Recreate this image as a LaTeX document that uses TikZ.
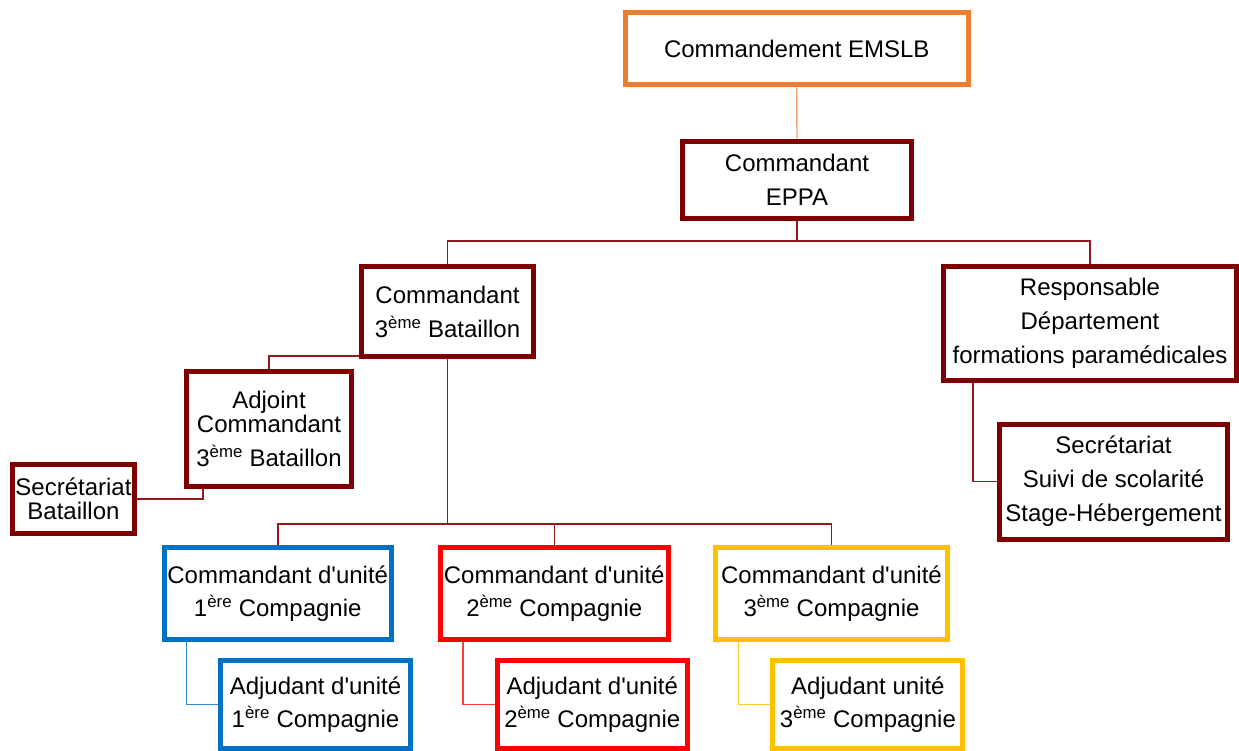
\documentclass[tikz,border=0pt]{standalone}
\usepackage{fontspec}
\setmainfont{Liberation Sans}
\definecolor{cOrange}{HTML}{ED7D31}
\definecolor{cOrangeL}{HTML}{F4A56E}
\definecolor{cMaroon}{HTML}{7F0000}
\definecolor{cMaroonL}{HTML}{8E1A1A}
\definecolor{cBlue}{HTML}{0070C0}
\definecolor{cBlueL}{HTML}{2C8AD6}
\definecolor{cRed}{HTML}{FF0000}
\definecolor{cRedL}{HTML}{FF3B3B}
\definecolor{cGold}{HTML}{FFC000}
\definecolor{cGoldL}{HTML}{FFCA3A}
\tikzset{
  orgbox/.style={draw, line width=5pt, fill=white, inner sep=0pt, align=center,
    font=\fontsize{24}{34}\selectfont, text=black},
  obox/.style={orgbox, draw=cOrange},
  mbox/.style={orgbox, draw=cMaroon},
  bbox/.style={orgbox, draw=cBlue},
  rbox/.style={orgbox, draw=cRed},
  gbox/.style={orgbox, draw=cGold},
  oline/.style={draw=cOrangeL, line width=1.4pt},
  mline/.style={draw=cMaroonL, line width=1.5pt},
  bline/.style={draw=cBlueL, line width=1.2pt},
  rline/.style={draw=cRedL, line width=1.2pt},
  gline/.style={draw=cGoldL, line width=1.2pt},
}
\newcommand{\ordsup}[1]{\textsuperscript{#1}}
\newcommand{\apo}{\textquotesingle}
\begin{document}
\begin{tikzpicture}[x=1pt,y=-1pt]
\useasboundingbox[fill=white] (0,0) rectangle (1239,751);

\coordinate (busA) at (0,241);
\coordinate (busB) at (0,524);

\node[obox, minimum width=343.5pt, minimum height=72.5pt] (emslb) at (796.75,48.75) {Commandement EMSLB};
\node[mbox, minimum width=229pt, minimum height=77pt] (eppa) at (797,180) {Commandant\\EPPA};
\node[mbox, minimum width=172pt, minimum height=90pt] (bat) at (447.5,311.5) {Commandant\\3\ordsup{ème} Bataillon};
\node[mbox, minimum width=293pt, minimum height=114pt] (resp) at (1090,323.5) {Responsable\\Département\\formations paramédicales};
\node[mbox, minimum width=165pt, minimum height=114.5pt] (adj) at (269,428.75) {Adjoint\\[-9.5pt]Commandant\\3\ordsup{ème} Bataillon};
\node[mbox, minimum width=122pt, minimum height=69.5pt] (secb) at (73.5,498.75) {Secrétariat\\[-9.5pt]Bataillon};
\node[mbox, minimum width=228pt, minimum height=115pt] (secs) at (1113.5,481.5) {Secrétariat\\Suivi de scolarité\\Stage-Hébergement};
\node[bbox, minimum width=227.5pt, minimum height=91.5pt] (cdu1) at (277.75,593.25) {Commandant d\apo unité\\[-1pt]1\ordsup{ère} Compagnie};
\node[rbox, minimum width=227.5pt, minimum height=91.5pt] (cdu2) at (554.25,593.25) {Commandant d\apo unité\\[-1pt]2\ordsup{ème} Compagnie};
\node[gbox, minimum width=231.5pt, minimum height=91.5pt] (cdu3) at (831.5,593.25) {Commandant d\apo unité\\[-1pt]3\ordsup{ème} Compagnie};
\node[bbox, minimum width=190pt, minimum height=88.5pt] (adu1) at (315.5,704.25) {Adjudant d\apo unité\\[-1pt]1\ordsup{ère} Compagnie};
\node[rbox, minimum width=190.5pt, minimum height=88.5pt] (adu2) at (592.25,704.25) {Adjudant d\apo unité\\[-1pt]2\ordsup{ème} Compagnie};
\node[gbox, minimum width=190pt, minimum height=88.5pt] (adu3) at (867.9,704.25) {Adjudant unité\\[-1pt]3\ordsup{ème} Compagnie};

\draw[oline] (emslb.south) -- (eppa.north);
\draw[mline] (eppa.south) -- (eppa.south |- busA) -| (bat.north);
\draw[mline] (eppa.south |- busA) -| (resp.north);
\draw[mline] ([yshift=3pt]bat.south west) -| (adj.north);
\draw[mline] ([xshift=19pt]adj.south west) |- (secb.east);
\draw[mline] ([xshift=32pt]resp.south west) |- (secs.west);
\draw[mline] (bat.south) -- (bat.south |- busB) -| (cdu1.north);
\draw[mline] (bat.south |- busB) -| (cdu2.north);
\draw[mline] (bat.south |- busB) -| (cdu3.north);
\draw[bline] ([xshift=25pt]cdu1.south west) |- (adu1.west);
\draw[rline] ([xshift=25pt]cdu2.south west) |- (adu2.west);
\draw[gline] ([xshift=25.5pt]cdu3.south west) |- (adu3.west);
\end{tikzpicture}
\end{document}
